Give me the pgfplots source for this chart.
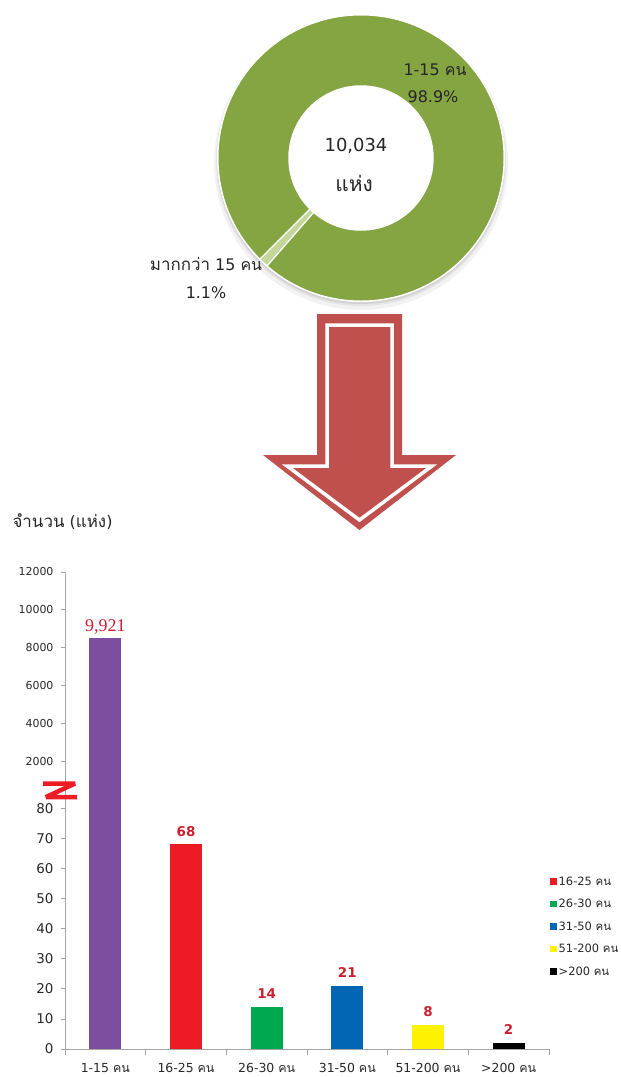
\documentclass[border=0pt]{standalone}
\usepackage{fontspec}
\setmainfont{DejaVu Sans}
\newfontfamily\thai[Script=Thai]{Loma}
\newfontfamily\serifnum{Liberation Serif}
\usepackage{pgfplots}
\pgfplotsset{compat=1.18}
\definecolor{donutg}{RGB}{132,165,66}
\definecolor{donutl}{RGB}{196,215,155}
\definecolor{arrowred}{RGB}{192,80,77}
\definecolor{cpurple}{RGB}{123,78,160}
\definecolor{cred}{RGB}{237,28,36}
\definecolor{cgreen}{RGB}{0,168,80}
\definecolor{cblue}{RGB}{0,102,179}
\definecolor{cyellow}{RGB}{255,242,0}
\definecolor{valred}{RGB}{205,30,45}
\definecolor{txt}{RGB}{40,40,40}
\definecolor{axgray}{RGB}{165,165,165}
\newcommand\kon{{\thai คน}}
\newcommand\uf{\fontsize{11}{12}\selectfont}
\newcommand\lf{\fontsize{13.5}{15}\selectfont}
% donut shares (percent) and start angle of the small slice
\def\sharebig{98.9}
\def\sharesmall{1.1}
\def\startang{225}
\begin{document}
\begin{tikzpicture}[x=1bp,y=1bp]
\useasboundingbox (0bp,0bp) rectangle (621bp,-1077bp);

% ---------- donut ----------
\begin{axis}[hide axis, scale only axis, width=286bp, height=286bp,
  xmin=-1, xmax=1, ymin=-1, ymax=1, at={(361bp,-158bp)}, anchor=center, clip=false]
\pgfmathsetmacro{\endang}{\startang+3.6*\sharesmall}
\pgfmathsetmacro{\endangb}{\endang+180}
\fill[black, opacity=0.05] (axis cs:0,0) ++(0bp,-5bp) circle[radius=147bp];
\fill[black, opacity=0.06] (axis cs:0,0) ++(0bp,-3bp) circle[radius=145bp];
\fill[black, opacity=0.08] (axis cs:0,0) ++(0bp,-2bp) circle[radius=144bp];
\fill[white] (axis cs:0,0) circle[radius=144bp];
\fill[donutg, even odd rule] (axis cs:0,0) circle[radius=143bp] (axis cs:0,0) circle[radius=72bp];
\fill[donutl] (axis cs:0,0) ++(\startang:72bp) -- ++(\startang:71bp)
   arc[start angle=\startang, end angle=\endang, radius=143bp]
   -- ++(\endangb:71bp) arc[start angle=\endang, end angle=\startang, radius=72bp] -- cycle;
\draw[white, line width=1.3bp] (axis cs:0,0) ++(\startang:71bp) -- ++(\startang:73bp);
\draw[white, line width=1.3bp] (axis cs:0,0) ++(\endang:71bp) -- ++(\endang:73bp);
\draw[white, line width=1bp] (axis cs:0,0) circle[radius=143bp];
\draw[white, line width=1.5bp] (axis cs:0,0) circle[radius=72bp];
\end{axis}
\node[text=black!85] at (435bp,-70bp) {\fontsize{16}{18}\selectfont 1-15 \kon};
\node[text=black!85] at (433bp,-97bp) {\fontsize{16}{18}\selectfont \sharebig\%};
\node[text=black!85] at (356bp,-146bp) {\fontsize{18}{20}\selectfont 10,034};
\node[text=black!85] at (354bp,-183bp) {\thai\fontsize{21}{22}\selectfont แห่ง};
\node[text=black!85] at (206bp,-264bp) {\fontsize{16}{18}\selectfont {\thai\fontsize{17}{18}\selectfont มากกว่า} 15 \kon};
\node[text=black!85] at (206bp,-293bp) {\fontsize{16}{18}\selectfont \sharesmall\%};

% ---------- arrow ----------
\fill[arrowred] (317bp,-314bp) -- (402bp,-314bp) -- (402bp,-455bp) -- (456bp,-455bp) -- (359.5bp,-530bp)
   -- (263bp,-455bp) -- (317bp,-455bp) -- cycle;
\draw[white, line width=3.5bp, line join=miter] (327bp,-325bp) -- (392bp,-325bp) -- (392bp,-466bp)
   -- (432bp,-466bp) -- (359.5bp,-520bp) -- (287bp,-466bp) -- (327bp,-466bp) -- cycle;

% ---------- y label ----------
\node[anchor=west, text=black!85] at (9bp,-522bp) {\fontsize{16}{18}\selectfont {\thai\fontsize{17}{18}\selectfont จำนวน} ({\thai\fontsize{17}{18}\selectfont แห่ง})};

% ---------- bar chart with broken axis ----------
\begin{axis}[
  at={(65bp,-1049bp)}, anchor=south west,
  scale only axis, width=484bp, height=477bp,
  xmin=-0.5, xmax=5.5, ymin=0, ymax=12000,
  y coord trafo/.code={\pgfmathparse{ifthenelse(#1>80,95.7+(#1-2000)*0.00628,#1)}},
  ybar, bar width=32bp, /pgf/bar shift=0pt,
  axis y line*=left, axis x line*=bottom,
  axis line style={axgray, line width=0.8bp},
  tick style={axgray, line width=0.8bp}, tick align=outside,
  major tick length=4bp, minor tick length=6bp,
  ytick={0,10,20,30,40,50,60,70,80,2000,4000,6000,8000,10000,12000},
  yticklabels={\lf 0,\lf 10,\lf 20,\lf 30,\lf 40,\lf 50,\lf 60,\lf 70,\lf 80,
     \uf 2000,\uf 4000,\uf 6000,\uf 8000,\uf 10000,\uf 12000},
  yticklabel style={text=txt, xshift=-4bp},
  xtick={0,1,2,3,4,5},
  xticklabels={1-15 \kon,16-25 \kon,26-30 \kon,31-50 \kon,51-200 \kon,>200 \kon},
  xticklabel style={font=\fontsize{12.5}{14}\selectfont, text=txt, anchor=north, yshift=-7bp},
  major x tick style={draw=none},
  minor xtick={-0.5,0.5,1.5,2.5,3.5,4.5,5.5},
  point meta=explicit symbolic,
  nodes near coords,
  every node near coord/.append style={font=\bfseries\fontsize{13.5}{14}\selectfont, text=valred, anchor=base, yshift=8bp},
  legend image code/.code={\fill[#1] (0bp,-3.25bp) rectangle (6.5bp,3.25bp);},
  legend style={at={(1.0,0.368)}, anchor=north west, draw=none, fill=none,
     font=\fontsize{11.5}{13}\selectfont, text=txt, row sep=10.5bp, inner xsep=1bp,
     nodes={inner xsep=2bp, inner ysep=1bp}},
  legend cell align=left,
  clip=false,
]
\addplot[fill=cpurple, draw=none, forget plot,
  every node near coord/.append style={font=\serifnum\fontsize{18}{18}\selectfont, yshift=-1bp}]
  coordinates {(0,8500) [9,921]};
\addplot[fill=cred, draw=none] coordinates {(1,68) [68]};
\addlegendentry{16-25 \kon}
\addplot[fill=cgreen, draw=none] coordinates {(2,14) [14]};
\addlegendentry{26-30 \kon}
\addplot[fill=cblue, draw=none] coordinates {(3,21) [21]};
\addlegendentry{31-50 \kon}
\addplot[fill=cyellow, draw=none] coordinates {(4,8) [8]};
\addlegendentry{51-200 \kon}
\addplot[fill=black, draw=none] coordinates {(5,2) [2]};
\addlegendentry{>200 \kon}
\end{axis}

% axis break mark
\draw[cred, line width=4.5bp, line join=bevel, line cap=butt] (43bp,-783.5bp) -- (75bp,-783.5bp) -- (46bp,-797bp) -- (77bp,-797bp);
\end{tikzpicture}
\end{document}
